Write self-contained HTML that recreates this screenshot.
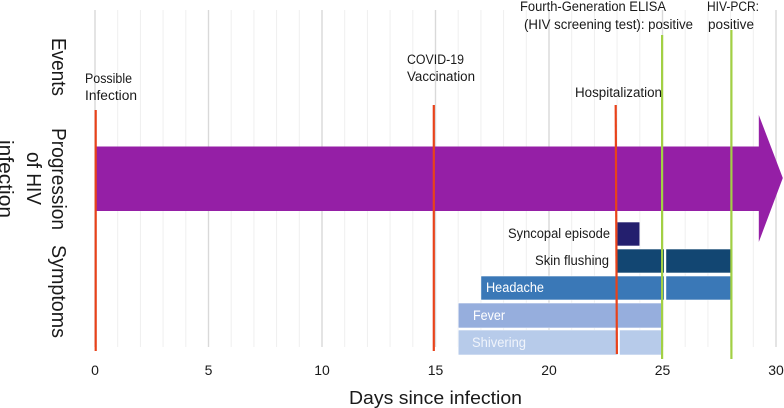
<!DOCTYPE html>
<html>
<head>
<meta charset="utf-8">
<style>
html,body{margin:0;padding:0;background:#fff;width:784px;height:408px;overflow:hidden}
svg{display:block}
text{font-family:"Liberation Sans",sans-serif;fill:#1a1a1a}
</style>
</head>
<body>
<svg id="chart" width="784" height="408" viewBox="0 0 784 408" xmlns="http://www.w3.org/2000/svg">
<g id="grid"></g>
<polygon id="arrow" fill="#951fa6"></polygon>
<g id="bars"></g>
<g id="events"></g>
<g id="ticks"></g>
<text x="349" y="404" font-size="18.5" textLength="173" lengthAdjust="spacingAndGlyphs">Days since infection</text>
<text transform="translate(52,38) rotate(90)" font-size="20" textLength="58" lengthAdjust="spacingAndGlyphs">Events</text>
<text transform="translate(52,128) rotate(90)" font-size="20" textLength="102" lengthAdjust="spacingAndGlyphs">Progression</text>
<text transform="translate(27,152) rotate(90)" font-size="20" textLength="53" lengthAdjust="spacingAndGlyphs">of HIV</text>
<text transform="translate(-1,140) rotate(90)" font-size="20" textLength="78" lengthAdjust="spacingAndGlyphs">infection</text>
<text transform="translate(52,245) rotate(90)" font-size="20" textLength="93" lengthAdjust="spacingAndGlyphs">Symptoms</text>
<text x="85" y="83" font-size="13.5" textLength="47" lengthAdjust="spacingAndGlyphs">Possible</text>
<text x="85" y="100" font-size="13.5" textLength="52" lengthAdjust="spacingAndGlyphs">Infection</text>
<text x="407" y="64" font-size="13.5" textLength="57" lengthAdjust="spacingAndGlyphs">COVID-19</text>
<text x="407" y="81" font-size="13.5" textLength="68" lengthAdjust="spacingAndGlyphs">Vaccination</text>
<text x="575" y="97" font-size="13.5" textLength="87" lengthAdjust="spacingAndGlyphs">Hospitalization</text>
<text x="520" y="11" font-size="13.5" textLength="146" lengthAdjust="spacingAndGlyphs">Fourth-Generation ELISA</text>
<text x="524" y="29" font-size="13.5" textLength="169" lengthAdjust="spacingAndGlyphs">(HIV screening test): positive</text>
<text x="707" y="11" font-size="13.5" textLength="52" lengthAdjust="spacingAndGlyphs">HIV-PCR:</text>
<text x="708" y="29" font-size="13.5" textLength="46" lengthAdjust="spacingAndGlyphs">positive</text>
</svg>
<script>
var symptomNames = ['Syncopal episode', 'Skin flushing', 'Headache', 'Fever', 'Shivering'];
var symptomStart = [23, 23, 17, 16, 16];
var symptomEnd = [24, 28, 28, 25, 25];
var eventDays = [0, 15, 23, 25, 28];
var tickLabels = [0, 5, 10, 15, 20, 25, 30];
var dayCount = 30;
var arrowEndDay = 30.3;

var NS = 'http://www.w3.org/2000/svg';
function x(d) { return 95 + d * 22.7; }
function make(tag, attrs, parent) {
  var el = document.createElementNS(NS, tag);
  for (var k in attrs) el.setAttribute(k, attrs[k]);
  parent.appendChild(el);
  return el;
}

var grid = document.getElementById('grid');
for (var d = 0; d <= dayCount; d++) {
  var major = d % 5 === 0;
  var gl = make('line', {x1: x(d), x2: x(d), y1: 10, y2: 347, stroke: major ? '#d9d9d9' : '#efefef', 'stroke-width': major ? 1.4 : 1}, grid);
  
  
}

var tipX = x(arrowEndDay);
var arrow = document.getElementById('arrow');
arrow.setAttribute('points', [x(0), 146.5, tipX - 24, 146.5, tipX - 24, 115, tipX, 178, tipX - 24, 242, tipX - 24, 211, x(0), 211].join(' '));

var barColors = ['#241f6e', '#124672', '#3a78b7', '#96aedd', '#b7cbea'];
var barTextColors = ['#1a1a1a', '#1a1a1a', '#ffffff', '#ffffff', '#f0f4fb'];
var barY = [222, 249, 276, 303, 330];
var barH = [24, 24, 24, 25, 25];
var labelWidths = [102, 74, 58, 32, 54];
var labelX = [508, 535, 486, 473, 472];
var barEndPad = [0, 1.2, 1.2, 0, 0];
var bars = document.getElementById('bars');
symptomNames.forEach(function (name, i) {
  var r = make('rect', {x: x(symptomStart[i]), y: barY[i], width: x(symptomEnd[i]) - x(symptomStart[i]) + barEndPad[i], height: barH[i], fill: barColors[i], stroke: '#ffffff', 'stroke-width': 0.6}, bars);
  
  
  var t = make('text', {x: labelX[i], y: barY[i] + 16 + (i > 2 ? 1 : 0), 'font-size': 13.5, textLength: labelWidths[i], lengthAdjust: 'spacingAndGlyphs'}, bars);
  t.style.fill = barTextColors[i];
  t.textContent = name;
  
  
});

/* thin white seams in the bars, next to the event lines */
var seamDay = [25, 25, 23];
var seamRow = [1, 2, 4];
var seamOffset = [1.5, 1.5, 0.5];
seamDay.forEach(function (d, i) {
  var s = make('rect', {x: x(d) + seamOffset[i], y: barY[seamRow[i]], width: 2.2, height: barH[seamRow[i]], fill: '#ffffff'}, bars);
  
  
});

var eventColors = ['#e8421a', '#e8421a', '#e8421a', '#a2d044', '#a2d044'];
var eventTop = [110, 105, 105, 35, 30];
var eventBottom = [351, 351, 354, 359, 359];
var eventOffsetTop = [0.7, -1.7, -1.4, -0.4, 0.8];
var eventOffsetBottom = [0.7, -1.7, -0.2, -0.4, 0.8];
var eventGroup = document.getElementById('events');
eventDays.forEach(function (d, i) {
  var ln = make('line', {x1: x(d) + eventOffsetTop[i], x2: x(d) + eventOffsetBottom[i], y1: eventTop[i], y2: eventBottom[i], stroke: eventColors[i], 'stroke-width': 2.2}, eventGroup);
  
  
});

var ticks = document.getElementById('ticks');
tickLabels.forEach(function (v) {
  var t = make('text', {x: x(v), y: 375, 'font-size': 14, 'text-anchor': 'middle'}, ticks);
  t.textContent = v;
  
  
});
</script>
</body>
</html>
